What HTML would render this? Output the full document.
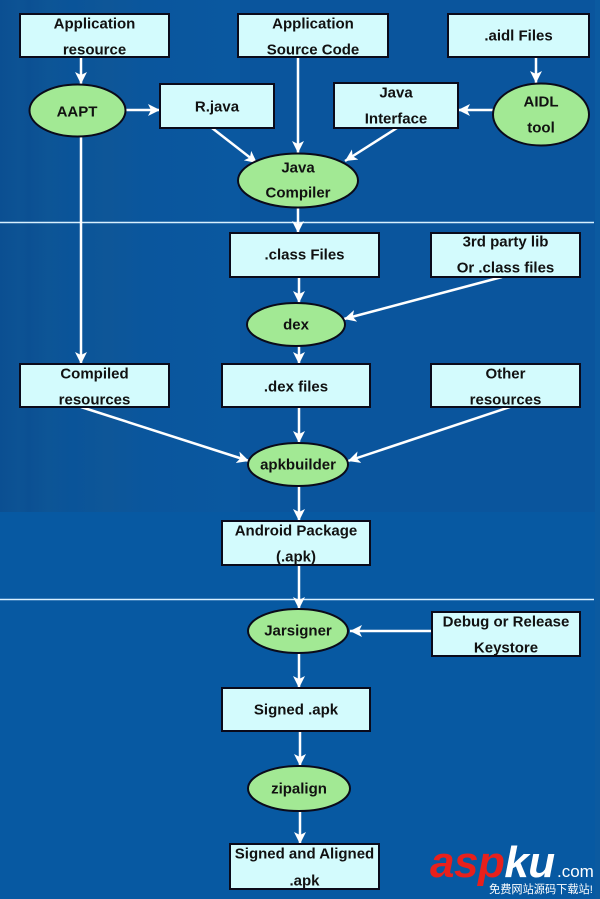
<!DOCTYPE html>
<html><head><meta charset="utf-8"><style>
html,body{margin:0;padding:0;background:#0a58a0;}
svg{display:block;}
text{font-family:"Liberation Sans",Arial,sans-serif;font-weight:bold;font-size:15px;fill:#111;text-anchor:middle;dominant-baseline:central;}
</style></head><body>
<svg width="600" height="899" viewBox="0 0 600 899" xmlns="http://www.w3.org/2000/svg">
<defs>
<linearGradient id="lg" x1="0" x2="1" y1="0" y2="0">
<stop offset="0" stop-color="#0b4f92"/>
<stop offset="0.08" stop-color="#0d5394"/>
<stop offset="0.12" stop-color="#0b5093"/>
<stop offset="0.2" stop-color="#0d5596"/>
<stop offset="0.3" stop-color="#0a5499"/>
<stop offset="0.45" stop-color="#0e5698"/>
<stop offset="0.6" stop-color="#0a569d"/>
<stop offset="1" stop-color="#0a58a0"/>
</linearGradient>
<marker id="ah" markerUnits="userSpaceOnUse" markerWidth="14" markerHeight="14" refX="12" refY="6" orient="auto">
<path d="M0,0 L12,6 L0,12 L3,6 Z" fill="#fff"/>
</marker>
</defs>
<!-- background -->
<rect x="0" y="0" width="600" height="899" fill="#0759a2"/>
<rect x="0" y="0" width="600" height="512" fill="#0a559d"/>
<rect x="0" y="0" width="240" height="512" fill="url(#lg)"/>
<rect x="595" y="0" width="5" height="899" fill="#0b5aa0"/>
<!-- dividers -->
<line x1="0" y1="222.5" x2="594" y2="222.5" stroke="#d8f0ff" stroke-width="1.5"/>
<line x1="0" y1="599.5" x2="594" y2="599.5" stroke="#d8f0ff" stroke-width="1.5"/>

<!-- connectors -->
<g stroke="#fff" stroke-width="2.5" fill="none">
<line x1="81" y1="57" x2="81" y2="84" marker-end="url(#ah)"/>
<line x1="126" y1="110" x2="160" y2="110" marker-end="url(#ah)"/>
<line x1="81" y1="137" x2="81" y2="364" marker-end="url(#ah)"/>
<line x1="212" y1="128" x2="257" y2="163" marker-end="url(#ah)"/>
<line x1="298" y1="57" x2="298" y2="153" marker-end="url(#ah)"/>
<line x1="536" y1="57" x2="536" y2="83" marker-end="url(#ah)"/>
<line x1="493" y1="110" x2="458" y2="110" marker-end="url(#ah)"/>
<line x1="397" y1="128" x2="345" y2="161" marker-end="url(#ah)"/>
<line x1="298" y1="207" x2="298" y2="233" marker-end="url(#ah)"/>
<line x1="299" y1="277" x2="299" y2="303" marker-end="url(#ah)"/>
<line x1="502" y1="277" x2="344" y2="319" marker-end="url(#ah)"/>
<line x1="299" y1="346" x2="299" y2="364" marker-end="url(#ah)"/>
<line x1="81" y1="407" x2="249" y2="461" marker-end="url(#ah)"/>
<line x1="299" y1="407" x2="299" y2="443" marker-end="url(#ah)"/>
<line x1="510" y1="407" x2="348" y2="461" marker-end="url(#ah)"/>
<line x1="299" y1="486" x2="299" y2="521" marker-end="url(#ah)"/>
<line x1="299" y1="565" x2="299" y2="609" marker-end="url(#ah)"/>
<line x1="432" y1="631" x2="350" y2="631" marker-end="url(#ah)"/>
<line x1="299" y1="653" x2="299" y2="688" marker-end="url(#ah)"/>
<line x1="300" y1="731" x2="300" y2="766" marker-end="url(#ah)"/>
<line x1="300" y1="811" x2="300" y2="844" marker-end="url(#ah)"/>
</g>

<!-- boxes -->
<g fill="#d3fbfd" stroke="#0a0a1a" stroke-width="2">
<rect x="20" y="14" width="149" height="43"/>
<rect x="238" y="14" width="150" height="43"/>
<rect x="448" y="14" width="141" height="43"/>
<rect x="160" y="84" width="114" height="44"/>
<rect x="334" y="83" width="124" height="45"/>
<rect x="230" y="233" width="149" height="44"/>
<rect x="431" y="233" width="149" height="44"/>
<rect x="20" y="364" width="149" height="43"/>
<rect x="222" y="364" width="148" height="43"/>
<rect x="431" y="364" width="149" height="43"/>
<rect x="222" y="521" width="148" height="44"/>
<rect x="432" y="612" width="148" height="44"/>
<rect x="222" y="688" width="148" height="43"/>
<rect x="230" y="844" width="149" height="45"/>
</g>

<!-- ellipses -->
<g fill="#a2e994" stroke="#0a0a1a" stroke-width="2">
<ellipse cx="77.5" cy="110.5" rx="48" ry="26"/>
<ellipse cx="541" cy="114.5" rx="48" ry="31"/>
<ellipse cx="298" cy="180.5" rx="60" ry="27"/>
<ellipse cx="296" cy="324.5" rx="49" ry="21.5"/>
<ellipse cx="298" cy="464.5" rx="50" ry="21.5"/>
<ellipse cx="298" cy="631" rx="50" ry="22"/>
<ellipse cx="299" cy="788.5" rx="51" ry="22.5"/>
</g>

<!-- labels -->
<text x="94.5" y="24">Application</text>
<text x="94.5" y="50">resource</text>
<text x="313" y="24">Application</text>
<text x="313" y="50">Source Code</text>
<text x="518.5" y="36">.aidl Files</text>
<text x="77" y="112">AAPT</text>
<text x="217" y="107">R.java</text>
<text x="396" y="93">Java</text>
<text x="396" y="119">Interface</text>
<text x="541" y="102">AIDL</text>
<text x="541" y="128">tool</text>
<text x="298" y="168">Java</text>
<text x="298" y="193">Compiler</text>
<text x="304.5" y="255">.class Files</text>
<text x="505.5" y="242">3rd party lib</text>
<text x="505.5" y="268">Or .class files</text>
<text x="296" y="325">dex</text>
<text x="94.5" y="374">Compiled</text>
<text x="94.5" y="400">resources</text>
<text x="296" y="387">.dex files</text>
<text x="505.5" y="374">Other</text>
<text x="505.5" y="400">resources</text>
<text x="298" y="465">apkbuilder</text>
<text x="296" y="531">Android Package</text>
<text x="296" y="557">(.apk)</text>
<text x="298" y="631">Jarsigner</text>
<text x="506" y="622">Debug or Release</text>
<text x="506" y="648">Keystore</text>
<text x="296" y="710">Signed .apk</text>
<text x="299" y="789">zipalign</text>
<text x="304.5" y="854">Signed and Aligned</text>
<text x="304.5" y="881">.apk</text>

<!-- watermark -->
<text x="430" y="877" style="font-size:44px;font-style:italic;font-weight:bold;text-anchor:start;dominant-baseline:alphabetic;fill:#e8201c;letter-spacing:-0.5px;">asp<tspan fill="#ffffff">ku</tspan></text>
<text x="557" y="877" style="font-size:17px;font-weight:normal;text-anchor:start;dominant-baseline:alphabetic;fill:#ffffff;">.com</text>
<text x="489" y="893" style="font-family:'Liberation Sans','Noto Sans CJK SC',sans-serif;font-size:11.2px;font-weight:normal;text-anchor:start;dominant-baseline:alphabetic;fill:#ffffff;">免费网站源码下载站!</text>
</svg>
</body></html>
